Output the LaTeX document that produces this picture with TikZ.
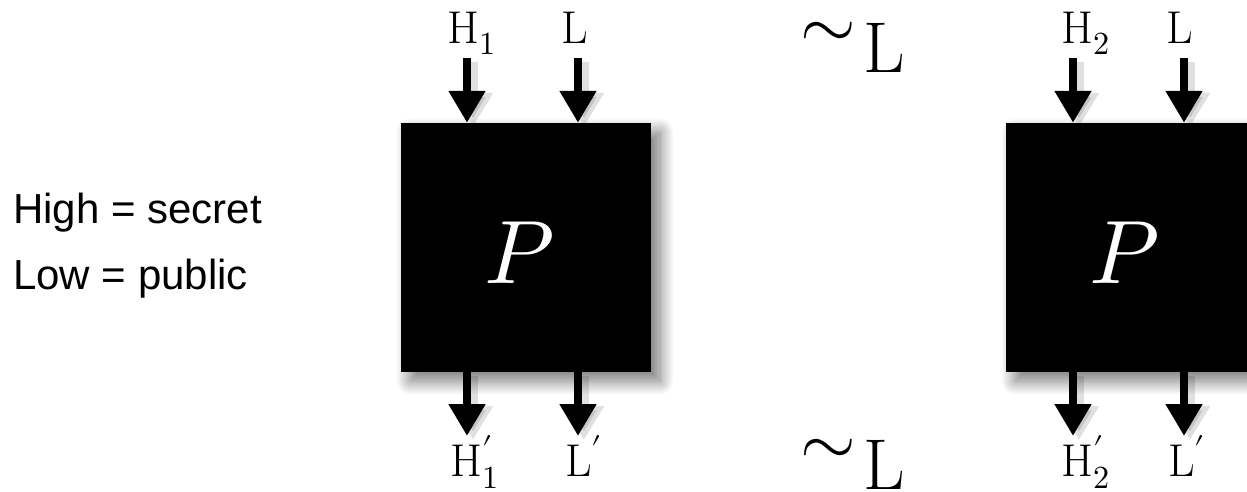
\documentclass[tikz,border=0pt]{standalone}
\usepackage{fontspec}
\usepackage{unicode-math}
\setmathfont{Latin Modern Math}
\newfontfamily\arialfont{Liberation Sans}
\usetikzlibrary{arrows.meta,shadows.blur}
\tikzset{
  blackbox/.style={fill=black, draw=none, minimum width=250pt, minimum height=249pt, inner sep=0pt,
    blur shadow={shadow xshift=9pt, shadow yshift=-9pt, shadow blur radius=14pt, shadow blur steps=25, shadow opacity=55}},
  ptext/.style={anchor=base, inner sep=0pt, text=white, font=\fontsize{90}{96}\selectfont},
  flow/.style={line width=8pt, -{Triangle[width=35pt,length=32pt]},
    preaction={draw=black, line width=10pt, transform canvas={xshift=6pt,yshift=-4pt}, opacity=0.12, -{Triangle[width=38pt,length=34pt]}}},
  lab/.style={anchor=base west, inner sep=0pt, font=\fontsize{46}{50}\selectfont},
  sim/.style={anchor=base west, inner sep=0pt, font=\fontsize{72}{76}\selectfont},
  note/.style={anchor=base west, inner sep=0pt, font=\arialfont\fontsize{42}{48}\selectfont}
}
\begin{document}
\begin{tikzpicture}[x=1pt,y=-1pt]
\useasboundingbox (0,0) rectangle (1247,491);
\clip (0,0) rectangle (1247,491);
% notes
\node[note] (high) at (13,223) {High = secret};
\node[note] (low) at (13,289) {Low = public};
% boxes
\node[blackbox] (P1) at (526,247.5) {};
\node[blackbox] (P2) at (1131,247.5) {};
\node[ptext] (p1) at (520,283) {$P$};
\node[ptext] (p2) at (1125,283) {$P$};
% top labels
\node[lab] (h1) at (447,43) {$\mathrm{H}_1$};
\node[lab] (l1) at (561,43) {$\mathrm{L}$};
\node[lab] (h2) at (1061,43) {$\mathrm{H}_2$};
\node[lab] (l2) at (1166,43) {$\mathrm{L}$};
% bottom labels
\node[lab] (h1o) at (450,476) {$\mathrm{H}'_1$};
\node[lab] (l1o) at (565,476) {$\mathrm{L}'$};
\node[lab] (h2o) at (1061,476) {$\mathrm{H}'_2$};
\node[lab] (l2o) at (1168,476) {$\mathrm{L}'$};
% equivalence
\node[sim] (simtop) at (800,72) {\raisebox{24pt}{$\sim$}\kern8pt L};
\node[sim] (simbot) at (800,489) {\raisebox{24pt}{$\sim$}\kern8pt L};
% arrow end points
\coordinate (a1) at (467,58);
\coordinate (a2) at (578,58);
\coordinate (a3) at (1073,58);
\coordinate (a4) at (1184,58);
\coordinate (b1) at (467,436);
\coordinate (b2) at (578,436);
\coordinate (b3) at (1073,436);
\coordinate (b4) at (1184,436);
\draw[flow] (a1) -- (a1 |- P1.north);
\draw[flow] (a2) -- (a2 |- P1.north);
\draw[flow] (a3) -- (a3 |- P2.north);
\draw[flow] (a4) -- (a4 |- P2.north);
\draw[flow] (b1 |- P1.south) -- (b1);
\draw[flow] (b2 |- P1.south) -- (b2);
\draw[flow] (b3 |- P2.south) -- (b3);
\draw[flow] (b4 |- P2.south) -- (b4);
\end{tikzpicture}
\end{document}
